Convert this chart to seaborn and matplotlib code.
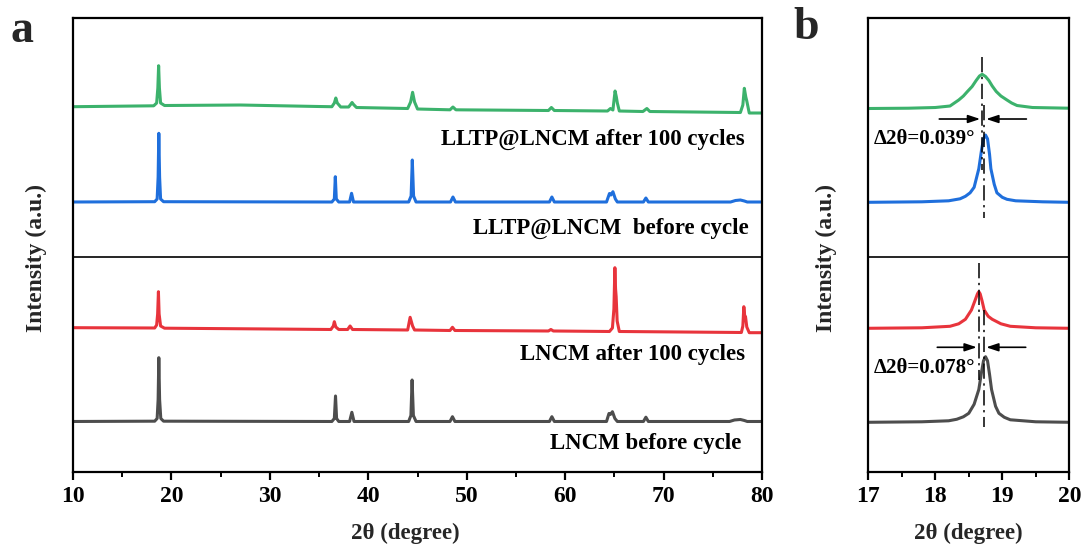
import matplotlib
matplotlib.use("Agg")
import matplotlib.pyplot as plt
from matplotlib.ticker import MultipleLocator
import seaborn as sns
import pandas as pd

# ---------------- data ----------------
series_names = ["LNCM before cycle", "LNCM after 100 cycles",
                "LLTP@LNCM  before cycle", "LLTP@LNCM after 100 cycles"]
series_colors = ["#4d4d4d", "#e8343c", "#1f6fdc", "#3cb26c"]
# vertical stacking offsets (a.u.)
offsets_a = [50.2, 142.7, 269.7, 364.7]
offsets_b = [49.4, 143.4, 269.4, 363.2]

# panel a: 2theta / intensity vertices
gray_a_x = [10, 18.3, 18.55, 18.65, 18.72, 18.8, 18.92, 19.2, 36.3, 36.55, 36.67, 36.78, 37.0,
            38.1, 38.33, 38.55, 44.1, 44.33, 44.45, 44.58, 44.85, 48.3, 48.55, 48.8,
            58.4, 58.65, 58.9, 64.2, 64.45, 64.6, 64.8, 65.05, 65.3, 67.95, 68.2, 68.45,
            76.7, 77.2, 77.8, 78.2, 78.5, 80]
gray_a_y = [0, 0.3, 3, 22, 63.8, 22, 3, 0.3, 0, 3, 25.5, 3, 0,
            0, 9.2, 0, 0, 6, 41.5, 6, 0, 0, 4.8, 0,
            0, 4.8, 0, 0, 8, 7, 9.8, 3, 0, 0, 4.3, 0,
            0, 1.5, 2, 1, 0, 0]

red_a_x = [10, 18.3, 18.5, 18.6, 18.68, 18.75, 18.9, 19.3, 30, 36.2, 36.45, 36.55, 36.7, 37.0,
           37.9, 38.15, 38.4, 44.0, 44.25, 44.5, 44.7, 48.3, 48.55, 48.8, 58.3, 58.55, 58.8,
           64.5, 64.8, 64.95, 65.05, 65.12, 65.18, 65.28, 65.5, 77.9, 78.05, 78.15, 78.25,
           78.32, 78.45, 78.7, 80]
red_a_y = [1.3, 1, 4, 15, 37.3, 15, 3, 0.8, 0, -0.5, 3, 7.3, 2, -0.5,
           -0.5, 3, -0.5, -1, 11.7, 3, -1, -1.5, 1.7, -1.5, -2, -0.5, -2,
           -2.5, 1, 20, 61.3, 40, 32.3, 8, -2.5, -3.5, 3, 22.3, 12,
           12.3, 2, -3.7, -3.7]

blue_a_x = [10, 18.3, 18.55, 18.65, 18.72, 18.8, 18.9, 19.2, 36.3, 36.55, 36.65, 36.75, 37.0,
            38.1, 38.3, 38.5, 44.1, 44.35, 44.47, 44.6, 44.85, 48.35, 48.6, 48.85,
            58.4, 58.65, 58.9, 64.2, 64.5, 64.65, 64.85, 65.1, 65.3, 67.95, 68.2, 68.45,
            76.8, 77.3, 77.8, 78.2, 78.5, 80]
blue_a_y = [0, 0.3, 3, 25, 68.7, 25, 3, 0.3, 0, 3, 25.3, 3, 0,
            0, 8.7, 0, 0, 6, 42, 6, 0, 0, 5, 0,
            0, 5, 0, 0, 8.5, 7, 10.3, 3, 0, 0, 4, 0,
            0, 1.5, 2, 1, 0, 0]

green_a_x = [10, 18.2, 18.5, 18.62, 18.7, 18.78, 18.9, 19.3, 27.0, 35.0, 36.3, 36.55, 36.7,
             36.85, 37.2, 38.0, 38.2, 38.35, 38.5, 38.8, 44.0, 44.3, 44.5, 44.7, 45.0,
             48.3, 48.6, 48.9, 58.3, 58.6, 58.9, 64.3, 64.6, 64.85, 65.0, 65.07, 65.2,
             65.3, 65.5, 67.9, 68.3, 68.6, 77.8, 78.05, 78.2, 78.35, 78.45, 78.7, 80]
green_a_y = [0.3, 1.2, 4, 19, 41.3, 19, 4, 1.5, 2.0, 0.5, 0.3, 4, 9,
             4, 0, 0, 2.5, 4.5, 2.5, -0.5, -1.5, 5, 14.7, 5, -2,
             -2.8, 0, -2.8, -3.5, -0.5, -3.5, -4, -1.5, -3, 10, 16, 10,
             4, -4, -4.5, -1.5, -4.5, -5.5, 2, 18.7, 10, 6, -6, -6]

# panel b: zoom on the (003) reflection
gray_b_x = [17.0, 17.8, 18.2, 18.32, 18.42, 18.5, 18.58, 18.65, 18.69, 18.72, 18.75, 18.78,
            18.81, 18.84, 18.9, 18.95, 19.03, 19.12, 19.5, 20.0]
gray_b_y = [0, 0.5, 1.5, 3, 5.5, 9, 18, 32.8, 50, 61.5, 65.6, 61.5, 48, 32.8, 16, 9, 5,
            2.5, 0.5, 0]

red_b_x = [17.0, 17.8, 18.22, 18.35, 18.45, 18.54, 18.6, 18.63, 18.65, 18.67, 18.7, 18.73,
           18.79, 18.85, 18.98, 19.12, 19.5, 20.0]
red_b_y = [0, 0.5, 2, 4.5, 9, 18.3, 29, 34.5, 36.6, 34.5, 27, 18.3, 12, 9, 4.5, 2, 0.5, 0]

blue_b_x = [17.0, 17.8, 18.2, 18.37, 18.45, 18.52, 18.58, 18.65, 18.69, 18.72, 18.75, 18.78,
            18.81, 18.83, 18.88, 18.92, 19.0, 19.07, 19.2, 19.6, 20.0]
blue_b_y = [0, 0.5, 1.5, 3.5, 6, 9.5, 15, 33.6, 52, 63.5, 67.3, 63.5, 48, 33.6, 18, 9.5,
            5, 3, 1.5, 0.5, 0]

green_b_x = [17.0, 17.6, 18.0, 18.22, 18.35, 18.42, 18.48, 18.55, 18.61, 18.66, 18.7, 18.75,
             18.8, 18.85, 18.91, 18.98, 19.07, 19.14, 19.22, 19.45, 20.0]
green_b_y = [0, 0.3, 1.0, 2.5, 8.5, 12.5, 17, 22, 28, 32.5, 34.2, 32, 28, 22.5, 17, 12.5,
             8.5, 5.5, 3, 1, 0.3]

peak_lines_top = [18.695, 18.734]      # (003) positions, LLTP@LNCM after / before
peak_lines_bottom = [18.655, 18.733]   # (003) positions, LNCM after / before
shift_labels = ["\u03942\u03b8=0.039\u00b0", "\u03942\u03b8=0.078\u00b0"]

# ---------------- style ----------------
sns.set_theme(style="ticks")
plt.rcParams["font.family"] = ["Liberation Serif", "DejaVu Serif"]
plt.rcParams["font.weight"] = "bold"
plt.rcParams["axes.labelweight"] = "bold"

fig = plt.figure(figsize=(10.86, 5.5), dpi=100)
fig.patch.set_facecolor("white")
ax_a = fig.add_axes([0.0672, 0.1424, 0.6345, 0.8243])
ax_b = fig.add_axes([0.7995, 0.1424, 0.1851, 0.8243])

xs_a = [gray_a_x, red_a_x, blue_a_x, green_a_x]
ys_a = [gray_a_y, red_a_y, blue_a_y, green_a_y]
xs_b = [gray_b_x, red_b_x, blue_b_x, green_b_x]
ys_b = [gray_b_y, red_b_y, blue_b_y, green_b_y]

for i in range(4):
    df = pd.DataFrame({"x": xs_a[i], "y": [v + offsets_a[i] for v in ys_a[i]]})
    sns.lineplot(data=df, x="x", y="y", ax=ax_a, color=series_colors[i], lw=2.2,
                 sort=False, estimator=None)
    dfb = pd.DataFrame({"x": xs_b[i], "y": [v + offsets_b[i] for v in ys_b[i]]})
    sns.lineplot(data=dfb, x="x", y="y", ax=ax_b, color=series_colors[i], lw=2.2,
                 sort=False, estimator=None)

YMAX = 453.4
SEP = 214.2
for ax, lo, hi in [(ax_a, 10, 80), (ax_b, 17, 20)]:
    ax.set_xlim(lo, hi)
    ax.set_ylim(0, YMAX)
    ax.axhline(SEP, color="black", lw=1.2)
    ax.set_yticks([])
    for s in ax.spines.values():
        s.set_linewidth(1.6)
        s.set_color("black")
    ax.tick_params(axis="x", which="major", direction="out", length=6, width=1.6,
                   labelsize=17, pad=4, colors="black")
    ax.tick_params(axis="x", which="minor", direction="out", length=3.5, width=1.4,
                   colors="black")
    ax.set_xlabel("2\u03b8 (degree)", fontsize=16.5, fontweight="bold")
    ax.set_ylabel("Intensity (a.u.)", fontsize=17, fontweight="bold")

ax_a.xaxis.set_major_locator(MultipleLocator(10))
ax_a.xaxis.set_minor_locator(MultipleLocator(5))
ax_b.xaxis.set_major_locator(MultipleLocator(1))
ax_b.xaxis.set_minor_locator(MultipleLocator(0.5))
for ax in (ax_a, ax_b):
    for lab in ax.get_xticklabels():
        lab.set_fontweight("bold")

ax_a.xaxis.set_label_coords(0.482, -0.113)
ax_b.xaxis.set_label_coords(0.496, -0.113)
ax_a.yaxis.set_label_coords(-0.038, 0.471)
ax_b.yaxis.set_label_coords(-0.155, 0.471)

# sample labels
label_pos = [(77.95, 27.7), (78.27, 116.7), (78.6, 243.7), (78.27, 332.7)]
for (x, y), name in zip(label_pos, series_names):
    ax_a.text(x, y, name, ha="right", va="center", fontsize=16.5, fontweight="bold",
              color="black")

# panel b guides
dd = (0, (10, 3, 1.5, 3))
ax_b.plot([peak_lines_top[0]] * 2, [415.0, 301.7], color="black", lw=1.1, ls=dd)
ax_b.plot([peak_lines_top[1]] * 2, [366.7, 253.4], color="black", lw=1.1, ls=dd)
ax_b.plot([peak_lines_bottom[0]] * 2, [208.4, 91.7], color="black", lw=1.1, ls=dd)
ax_b.plot([peak_lines_bottom[1]] * 2, [161.7, 45.0], color="black", lw=1.1, ls=dd)

arrow_kw = dict(arrowstyle="-|>,head_length=0.6,head_width=0.2", color="black", lw=1.2,
                shrinkA=0, shrinkB=0)
for y, xl, xr, xh in [(352.7, 18.06, 19.36, 18.67), (124.4, 18.03, 19.35, 18.62)]:
    ax_b.annotate("", xy=(xh, y), xytext=(xl, y), arrowprops=arrow_kw)
    ax_b.annotate("", xy=(18.76, y), xytext=(xr, y), arrowprops=arrow_kw)

ax_b.text(17.08, 332.7, shift_labels[0], ha="left", va="center", fontsize=15,
          fontweight="bold", color="black")
ax_b.text(17.08, 103.4, shift_labels[1], ha="left", va="center", fontsize=15,
          fontweight="bold", color="black")

# panel letters
fig.text(22 / 1086, 1 - 31 / 550, "a", fontsize=33, fontweight="bold", ha="center",
         va="center")
fig.text(806 / 1086, 1 - 28 / 550, "b", fontsize=33, fontweight="bold", ha="center",
         va="center")

fig.savefig("out.png", dpi=100, facecolor="white")
